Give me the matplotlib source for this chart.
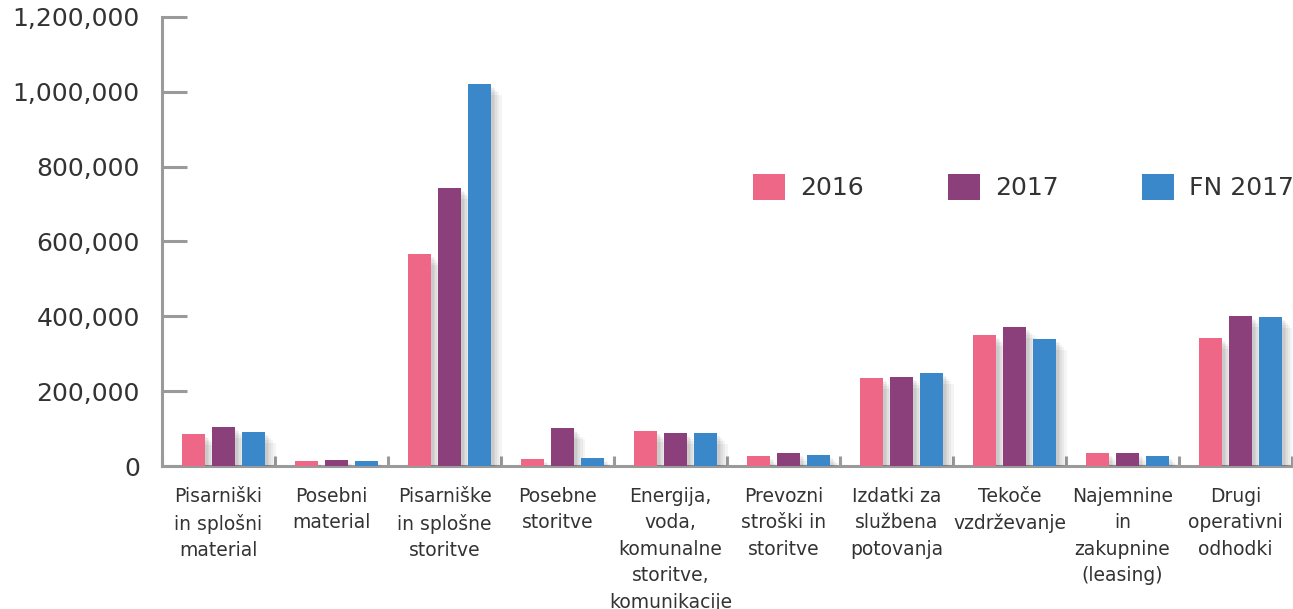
import matplotlib
matplotlib.use("Agg")
import matplotlib.pyplot as plt
import matplotlib.patheffects as pe
from matplotlib.patches import Patch
import numpy as np

categories = [
    "Pisarniški\nin splošni\nmaterial",
    "Posebni\nmaterial",
    "Pisarniške\nin splošne\nstoritve",
    "Posebne\nstoritve",
    "Energija,\nvoda,\nkomunalne\nstoritve,\nkomunikacije",
    "Prevozni\nstroški in\nstoritve",
    "Izdatki za\nslužbena\npotovanja",
    "Tekoče\nvzdrževanje",
    "Najemnine\nin\nzakupnine\n(leasing)",
    "Drugi\noperativni\nodhodki",
]
series_names = ["2016", "2017", "FN 2017"]
values_2016 = [85500, 13000, 566000, 19000, 93500, 27000, 235000, 350000, 35000, 342000]
values_2017 = [104000, 16000, 743000, 101000, 88000, 35000, 238000, 371500, 35000, 401000]
values_fn2017 = [91000, 13000, 1021000, 21000, 88000, 29000, 248500, 339000, 27000, 398000]
y_ticks = [0, 200000, 400000, 600000, 800000, 1000000, 1200000]

colors = ["#EE6787", "#8B3F7B", "#3A88C9"]
axis_col = "#9a9a9a"
text_col = "#333333"

fig = plt.figure(figsize=(12.93, 6.09), dpi=100)
ax = fig.add_axes([162/1293, 1-466/609, (1292-162)/1293, (466-17)/609])

x = np.arange(len(categories))
width = 0.205
offsets = [-0.265, 0.0, 0.265]
shift = 0.045
shadow = [pe.SimplePatchShadow(offset=(d, -d), shadow_rgbFace="#000000", alpha=0.045)
          for d in (8, 6, 4.5, 3, 2)] + [pe.Normal()]
for vals, off, col, name in zip([values_2016, values_2017, values_fn2017], offsets, colors, series_names):
    bars = ax.bar(x + off + shift, vals, width=width, color=col, zorder=3)
    for b in bars:
        b.set_path_effects(shadow)

ax.set_xlim(-0.5, len(categories) - 0.5)
ax.set_ylim(0, 1200000)
ax.set_yticks(y_ticks)
ax.set_yticklabels([f"{v:,}" for v in y_ticks])

ax.set_xticks(x)
ax.set_xticklabels(categories, linespacing=1.5)
ax.set_xticks(np.arange(len(categories) + 1) - 0.5, minor=True)

for s in ["top", "right"]:
    ax.spines[s].set_visible(False)
for s in ["left", "bottom"]:
    ax.spines[s].set_color(axis_col)
    ax.spines[s].set_linewidth(2.2)

ax.tick_params(axis="y", direction="in", length=18, width=2.2, color=axis_col,
               labelsize=18, labelcolor=text_col, pad=16)
ax.tick_params(axis="x", which="major", length=0, labelsize=13.5, labelcolor=text_col, pad=15)
ax.tick_params(axis="x", which="minor", direction="in", length=7.5, width=2.2, color=axis_col)

handles = [Patch(facecolor=c, edgecolor="none") for c in colors]
leg = ax.legend(handles, series_names, loc="center left",
                bbox_to_anchor=(753/1293, 1-187/609), bbox_transform=fig.transFigure,
                ncol=3, frameon=False, fontsize=18, handlelength=1.28, handleheight=1.28,
                handletextpad=0.6, columnspacing=3.36, borderpad=0, borderaxespad=0)
for t in leg.get_texts():
    t.set_color(text_col)

fig.savefig("out.png", dpi=100)
